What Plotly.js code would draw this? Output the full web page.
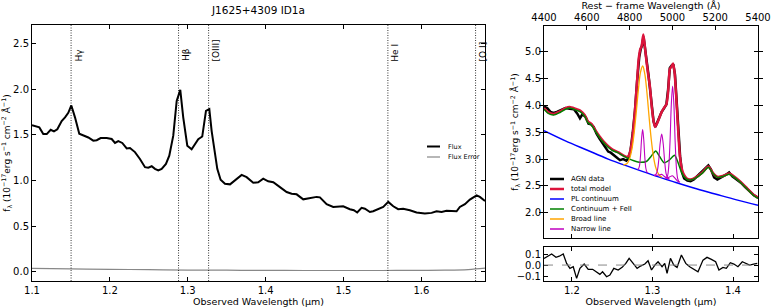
<!DOCTYPE html>
<html><head><meta charset="utf-8">
<script src="https://cdn.plot.ly/plotly-3.0.1.min.js"></script>
<style>body{margin:0;padding:0;background:#fff}#chart{width:773px;height:308px}</style>
</head><body><div id="chart"></div>
<script>
// ---------------- Left panel: observed spectrum ----------------
const fluxWave = [1.1000,1.1094,1.1145,1.1189,1.1240,1.1282,1.1325,1.1381,1.1424,1.1466,1.1505,1.1552,1.1607,1.1659,1.1723,1.1787,1.1831,1.1882,1.1959,1.2023,1.2066,1.2108,1.2159,1.2216,1.2258,1.2322,1.2386,1.2451,1.2493,1.2537,1.2579,1.2621,1.2665,1.2720,1.2763,1.2814,1.2858,1.2904,1.2942,1.2994,1.3050,1.3135,1.3186,1.3234,1.3277,1.3307,1.3340,1.3379,1.3422,1.3478,1.3543,1.3607,1.3692,1.3756,1.3841,1.3905,1.3969,1.4033,1.4098,1.4184,1.4270,1.4334,1.4398,1.4483,1.4569,1.4655,1.4697,1.4783,1.4868,1.4945,1.4996,1.5082,1.5133,1.5176,1.5232,1.5275,1.5339,1.5381,1.5445,1.5510,1.5575,1.5639,1.5702,1.5766,1.5852,1.5938,1.6045,1.6131,1.6195,1.6259,1.6323,1.6388,1.6452,1.6494,1.6559,1.6623,1.6709,1.6751,1.6817];
const flux = [1.605,1.58,1.507,1.507,1.554,1.536,1.56,1.65,1.69,1.74,1.82,1.69,1.51,1.49,1.47,1.435,1.44,1.464,1.464,1.453,1.41,1.43,1.41,1.35,1.355,1.31,1.235,1.145,1.14,1.155,1.127,1.11,1.127,1.18,1.27,1.49,1.87,1.99,1.69,1.38,1.34,1.45,1.48,1.76,1.78,1.54,1.33,1.127,1.007,0.964,0.957,1.0,1.06,1.036,0.975,0.98,1.02,0.99,0.98,0.927,0.873,0.855,0.848,0.793,0.808,0.82,0.815,0.74,0.71,0.71,0.717,0.685,0.674,0.649,0.70,0.69,0.655,0.663,0.69,0.71,0.765,0.717,0.685,0.69,0.674,0.649,0.638,0.645,0.663,0.655,0.667,0.663,0.663,0.71,0.74,0.79,0.837,0.82,0.775];
const errWave = [1.1,1.15,1.2,1.25,1.3,1.35,1.4,1.45,1.5,1.55,1.6,1.63,1.66,1.6817];
const fluxErr = [0.038,0.033,0.028,0.024,0.02,0.018,0.016,0.015,0.015,0.015,0.016,0.018,0.025,0.04];
const lineWave = [1.1502,1.2882,1.3268,1.5570,1.6696];
const lineLabel = ['Hγ','Hβ','[OIII]','He I','[O I]'];
const leftXTicks = [1.1,1.2,1.3,1.4,1.5,1.6];
const leftYTicks = [0.0,0.5,1.0,1.5,2.0,2.5];

// ---------------- Right panel: fit (rest-frame Å) ----------------
const dataWave = [4400,4415,4430,4445,4460,4480,4500,4520,4540,4555,4568,4580,4595,4608,4620,4632,4645,4660,4675,4690,4700,4712,4725,4740,4755,4770,4785,4795,4805,4815,4825,4835,4845,4852,4858,4865,4872,4880,4888,4896,4904,4912,4920,4930,4940,4950,4960,4972,4980,4988,4996,5004,5012,5020,5028,5036,5045,5055,5070,5085,5100,5120,5140,5155,5168,5180,5195,5210,5230,5250,5265,5280,5300,5320,5340,5360,5380,5400];
const dataFlux = [3.98,3.95,3.88,3.86,3.88,3.92,3.95,3.94,3.93,3.85,3.76,3.84,3.78,3.66,3.65,3.60,3.48,3.38,3.28,3.20,3.14,3.12,3.08,3.02,2.98,3.00,2.97,3.02,3.18,3.50,3.90,4.45,4.90,5.05,5.12,5.28,5.10,4.82,4.58,4.30,3.95,3.70,3.60,3.70,3.80,3.88,3.94,4.02,4.30,4.70,4.74,4.77,4.58,4.05,3.55,3.05,2.75,2.64,2.60,2.59,2.62,2.70,2.78,2.84,2.88,2.81,2.66,2.62,2.66,2.71,2.75,2.68,2.62,2.56,2.48,2.40,2.33,2.28];
const modelWave = [4400,4420,4445,4470,4500,4520,4545,4570,4590,4605,4620,4640,4660,4680,4700,4720,4745,4770,4780,4790,4800,4810,4818,4826,4834,4842,4850,4856,4864,4870,4878,4886,4895,4903,4911,4919,4930,4940,4950,4960,4972,4980,4988,4995,5003,5010,5018,5026,5034,5042,5050,5060,5070,5085,5110,5140,5168,5190,5210,5240,5265,5290,5320,5350,5380,5400];
const modelFlux = [3.95,3.87,3.84,3.88,3.95,3.97,3.94,3.90,3.82,3.70,3.66,3.54,3.42,3.32,3.24,3.18,3.13,3.07,3.05,3.04,3.10,3.30,3.58,3.95,4.40,4.85,5.05,5.10,5.32,5.15,4.85,4.60,4.35,4.00,3.73,3.60,3.68,3.78,3.88,3.95,4.02,4.25,4.68,4.72,4.78,4.62,4.15,3.60,3.10,2.86,2.74,2.67,2.63,2.62,2.66,2.75,2.86,2.74,2.67,2.69,2.73,2.67,2.57,2.45,2.33,2.28];
const plWave = [4400,4500,4600,4700,4800,4900,5000,5100,5200,5300,5400];
const plFlux = [3.53,3.34,3.17,3.00,2.855,2.715,2.585,2.46,2.35,2.24,2.14];
const feWave = [4400,4420,4445,4470,4500,4520,4545,4570,4590,4605,4620,4640,4660,4680,4700,4720,4745,4770,4795,4820,4850,4880,4900,4922,4940,4962,4985,5010,5025,5040,5055,5070,5085,5110,5140,5168,5190,5210,5240,5265,5290,5320,5350,5380,5400];
const feFlux = [3.93,3.85,3.82,3.86,3.93,3.95,3.92,3.88,3.80,3.68,3.64,3.52,3.40,3.30,3.22,3.16,3.12,3.06,3.01,2.97,2.94,2.96,3.05,3.15,3.05,2.93,2.98,3.07,2.95,2.78,2.67,2.62,2.61,2.65,2.74,2.85,2.73,2.66,2.68,2.72,2.66,2.56,2.44,2.32,2.27];
const broadWave = [4771,4781,4791,4801,4811,4821,4831,4841,4851,4861,4871,4881,4891,4901,4911,4921,4931,4941,4951];
const broadFlux = [2.895,2.90,2.93,3.02,3.19,3.48,3.87,4.29,4.62,4.735,4.59,4.24,3.79,3.375,3.06,2.86,2.75,2.69,2.665];
const narrowHbWave = [4836,4841,4846,4851,4856,4861,4866,4871,4876,4881,4886];
const narrowHbFlux = [2.81,2.815,2.87,3.06,3.38,3.55,3.37,3.04,2.83,2.76,2.74];
const narrow4959Wave = [4915,4922,4929,4936,4943,4950,4957,4964,4971,4978,4985];
const narrow4959Flux = [2.70,2.71,2.775,2.975,3.30,3.465,3.285,2.95,2.725,2.65,2.625];
const narrow5007Wave = [4971,4977,4983,4989,4995,5001,5007,5013,5019,5025,5031];
const narrow5007Flux = [2.645,2.685,2.865,3.34,4.025,4.36,4.01,3.315,2.825,2.63,2.575];
const wing4959Wave = [4914,4926,4938,4950,4962,4974,4986];
const wing4959Flux = [2.70,2.697,2.705,2.715,2.68,2.647,2.625];
const wing5007Wave = [4964,4976,4988,5000,5012,5024,5036];
const wing5007Flux = [2.65,2.647,2.67,2.69,2.645,2.592,2.57];
const restTicks = [4400,4600,4800,5000,5200,5400];
const rightYTicks = [2.0,2.5,3.0,3.5,4.0,4.5,5.0];

// ---------------- Residuals (observed µm) ----------------
const resWave = [1.1653,1.1686,1.1748,1.1802,1.1843,1.1892,1.1934,1.1975,1.2016,1.2058,1.2099,1.2152,1.2202,1.2257,1.2306,1.2347,1.2380,1.2430,1.2471,1.2520,1.2574,1.2623,1.2669,1.2710,1.2760,1.2809,1.2851,1.2905,1.2945,1.2988,1.3029,1.3069,1.3119,1.3152,1.3181,1.3223,1.3264,1.3305,1.3359,1.3413,1.3462,1.3512,1.3565,1.3627,1.3677,1.3731,1.3784,1.3825,1.3875,1.3917,1.3967,1.4011,1.4061,1.4115,1.4156,1.4206,1.4256,1.4301];
const resid = [0.06,0.075,0.1,0.07,0.08,0.1,0.015,-0.03,-0.015,-0.121,-0.03,0.009,-0.039,-0.039,-0.061,-0.085,-0.061,-0.106,-0.091,-0.03,-0.045,-0.021,0.015,0.061,0.015,-0.03,-0.009,0.009,0.039,-0.045,0.0,0.03,-0.015,0.015,-0.076,0.061,0.0,-0.021,0.091,0.015,-0.015,-0.039,-0.061,0.045,0.07,0.052,0.03,-0.045,-0.021,-0.03,0.021,0.009,-0.015,0.03,0.015,0.0,0.009,0.015];
const obsTicks = [1.2,1.3,1.4];
const resTicks = [-0.1,0.0,0.1];

const legendRight = [
  {name:'AGN data', color:'#000000', width:2.5},
  {name:'total model', color:'#dc143c', width:2.5},
  {name:'PL continuum', color:'#0000ff', width:1.5},
  {name:'Continuum + FeII', color:'#008000', width:1.5},
  {name:'Broad line', color:'#ffa500', width:1.5},
  {name:'Narrow line', color:'#bf00bf', width:1.5}
];
const legendLeft = [
  {name:'Flux', color:'#000000', width:2},
  {name:'Flux Error', color:'#888888', width:1.2}
];

// ---------------- Build ----------------
const W = 773, H = 308;
const fx = v => v / W, fy = v => 1 - v / H;
const FONT = 'DejaVu Sans, Arial, sans-serif';
const MAG = '#bf00bf';

const traces = [
  {x: errWave, y: fluxErr, xaxis:'x', yaxis:'y', mode:'lines', line:{color:'#888888', width:1.2, shape:'spline'}},
  {x: fluxWave, y: flux, xaxis:'x', yaxis:'y', mode:'lines', line:{color:'#000', width:2}},
  {x: [], y: [], xaxis:'x2', yaxis:'y2', mode:'lines'},
  {x: dataWave, y: dataFlux, xaxis:'x3', yaxis:'y2', mode:'lines', line:{color:'#000', width:2.5}},
  {x: modelWave, y: modelFlux, xaxis:'x3', yaxis:'y2', mode:'lines', line:{color:'#dc143c', width:2.5, shape:'spline', smoothing:0.6}},
  {x: plWave, y: plFlux, xaxis:'x3', yaxis:'y2', mode:'lines', line:{color:'#0000ff', width:1.5, shape:'spline'}},
  {x: feWave, y: feFlux, xaxis:'x3', yaxis:'y2', mode:'lines', line:{color:'#008000', width:1.5, shape:'spline', smoothing:0.6}},
  {x: broadWave, y: broadFlux, xaxis:'x3', yaxis:'y2', mode:'lines', line:{color:'#ffa500', width:1.3, shape:'spline'}},
  {x: narrowHbWave, y: narrowHbFlux, xaxis:'x3', yaxis:'y2', mode:'lines', line:{color:MAG, width:1.1, shape:'spline'}},
  {x: narrow4959Wave, y: narrow4959Flux, xaxis:'x3', yaxis:'y2', mode:'lines', line:{color:MAG, width:1.1, shape:'spline'}},
  {x: narrow5007Wave, y: narrow5007Flux, xaxis:'x3', yaxis:'y2', mode:'lines', line:{color:MAG, width:1.1, shape:'spline'}},
  {x: wing4959Wave, y: wing4959Flux, xaxis:'x3', yaxis:'y2', mode:'lines', line:{color:MAG, width:1.1, shape:'spline'}},
  {x: wing5007Wave, y: wing5007Flux, xaxis:'x3', yaxis:'y2', mode:'lines', line:{color:MAG, width:1.1, shape:'spline'}},
  {x: resWave, y: resid, xaxis:'x4', yaxis:'y3', mode:'lines', line:{color:'#000', width:1.3}}
];
traces.forEach(t => t.showlegend = false);

const base = {showline:true, linecolor:'#000', linewidth:1, ticks:'inside', ticklen:4, tickcolor:'#000', tickwidth:1,
  showgrid:false, zeroline:false, tickfont:{family:FONT, size:10, color:'#000'}, automargin:false};

const layout = {
  width: W, height: H, margin:{l:0, r:0, t:0, b:0}, paper_bgcolor:'#fff', plot_bgcolor:'#fff',
  font:{family:FONT, color:'#000'}, showlegend:false,
  title:{text:'J1625+4309 ID1a', font:{family:FONT, size:10.5, color:'#000'}, x: fx(258.5), xanchor:'center', y: fy(10), yanchor:'middle'},
  xaxis: Object.assign({}, base, {domain:[fx(32), fx(485)], range:[1.1, 1.6817], anchor:'y', mirror:'allticks',
    tickvals: leftXTicks, tickformat:'.1f',
    title:{text:'Observed Wavelength (μm)', font:{family:FONT, size:9.5}, standoff:3}}),
  yaxis: Object.assign({}, base, {domain:[fy(281), fy(25)], range:[-0.1, 2.7], anchor:'x', mirror:'allticks',
    tickvals: leftYTicks, tickformat:'.1f',
    title:{text:'f<sub>λ</sub> (10<sup>−17</sup>erg s<sup>−1</sup> cm<sup>−2</sup> Å<sup>−1</sup>)', font:{family:FONT, size:9}, standoff:5}}),
  xaxis2: Object.assign({}, base, {domain:[fx(544), fx(758)], range:[1.1653, 1.431], anchor:'y2',
    tickvals: obsTicks, showticklabels:false}),
  xaxis3: Object.assign({}, base, {overlaying:'x2', side:'top', anchor:'y2', range:[4400, 5400],
    tickvals: restTicks,
    title:{text:'Rest − frame Wavelength (Å)', font:{family:FONT, size:9.5}, standoff:2}}),
  yaxis2: Object.assign({}, base, {domain:[fy(238), fy(26)], range:[1.53, 5.48], anchor:'x2', mirror:'allticks',
    tickvals: rightYTicks, tickformat:'.1f',
    title:{text:'f<sub>λ</sub> (10<sup>−17</sup>erg s<sup>−1</sup> cm<sup>−2</sup> Å<sup>−1</sup>)', font:{family:FONT, size:9}, standoff:4}}),
  xaxis4: Object.assign({}, base, {domain:[fx(544), fx(758)], range:[1.1653, 1.431], anchor:'y3', mirror:'allticks',
    tickvals: obsTicks, tickformat:'.1f',
    title:{text:'Observed Wavelength (μm)', font:{family:FONT, size:9.5}, standoff:3}}),
  yaxis3: Object.assign({}, base, {domain:[fy(281), fy(247)], range:[-0.145, 0.164], anchor:'x4', mirror:'allticks',
    tickvals: resTicks, tickformat:'.1f'}),
  shapes: [], annotations: []
};

// emission-line markers
lineWave.forEach((w, i) => {
  layout.shapes.push({type:'line', xref:'x', yref:'y domain', x0:w, x1:w, y0:0, y1:1,
    line:{color:'#000', width:0.8, dash:'1px,1.5px'}});
  layout.annotations.push({xref:'x', yref:'y', x:w, y:2.28, text:lineLabel[i], textangle:-90,
    xanchor:'left', yanchor:'bottom', xshift:0.5, showarrow:false, font:{family:FONT, size:9, color:'#000'}});
});
// residual zero line
layout.shapes.push({type:'line', xref:'x4 domain', yref:'y3', x0:0, x1:1, y0:0, y1:0,
  line:{color:'#888', width:1, dash:'dash'}});

// legends
legendLeft.forEach((e, i) => {
  const yy = 146.5 + i * 10.5;
  layout.shapes.push({type:'line', xref:'paper', yref:'paper', x0:fx(427), x1:fx(440), y0:fy(yy), y1:fy(yy),
    line:{color:e.color, width:e.width}});
  layout.annotations.push({xref:'paper', yref:'paper', x:fx(446), y:fy(yy), text:e.name, xanchor:'left', yanchor:'middle',
    showarrow:false, font:{family:FONT, size:6.5, color:'#000'}});
});
legendRight.forEach((e, i) => {
  const yy = 179 + i * 10;
  layout.shapes.push({type:'line', xref:'paper', yref:'paper', x0:fx(550), x1:fx(564), y0:fy(yy), y1:fy(yy),
    line:{color:e.color, width:e.width}});
  layout.annotations.push({xref:'paper', yref:'paper', x:fx(569), y:fy(yy), text:e.name, xanchor:'left', yanchor:'middle',
    showarrow:false, font:{family:FONT, size:7, color:'#000'}});
});

Plotly.newPlot('chart', traces, layout, {staticPlot:true, displayModeBar:false});
</script></body></html>
